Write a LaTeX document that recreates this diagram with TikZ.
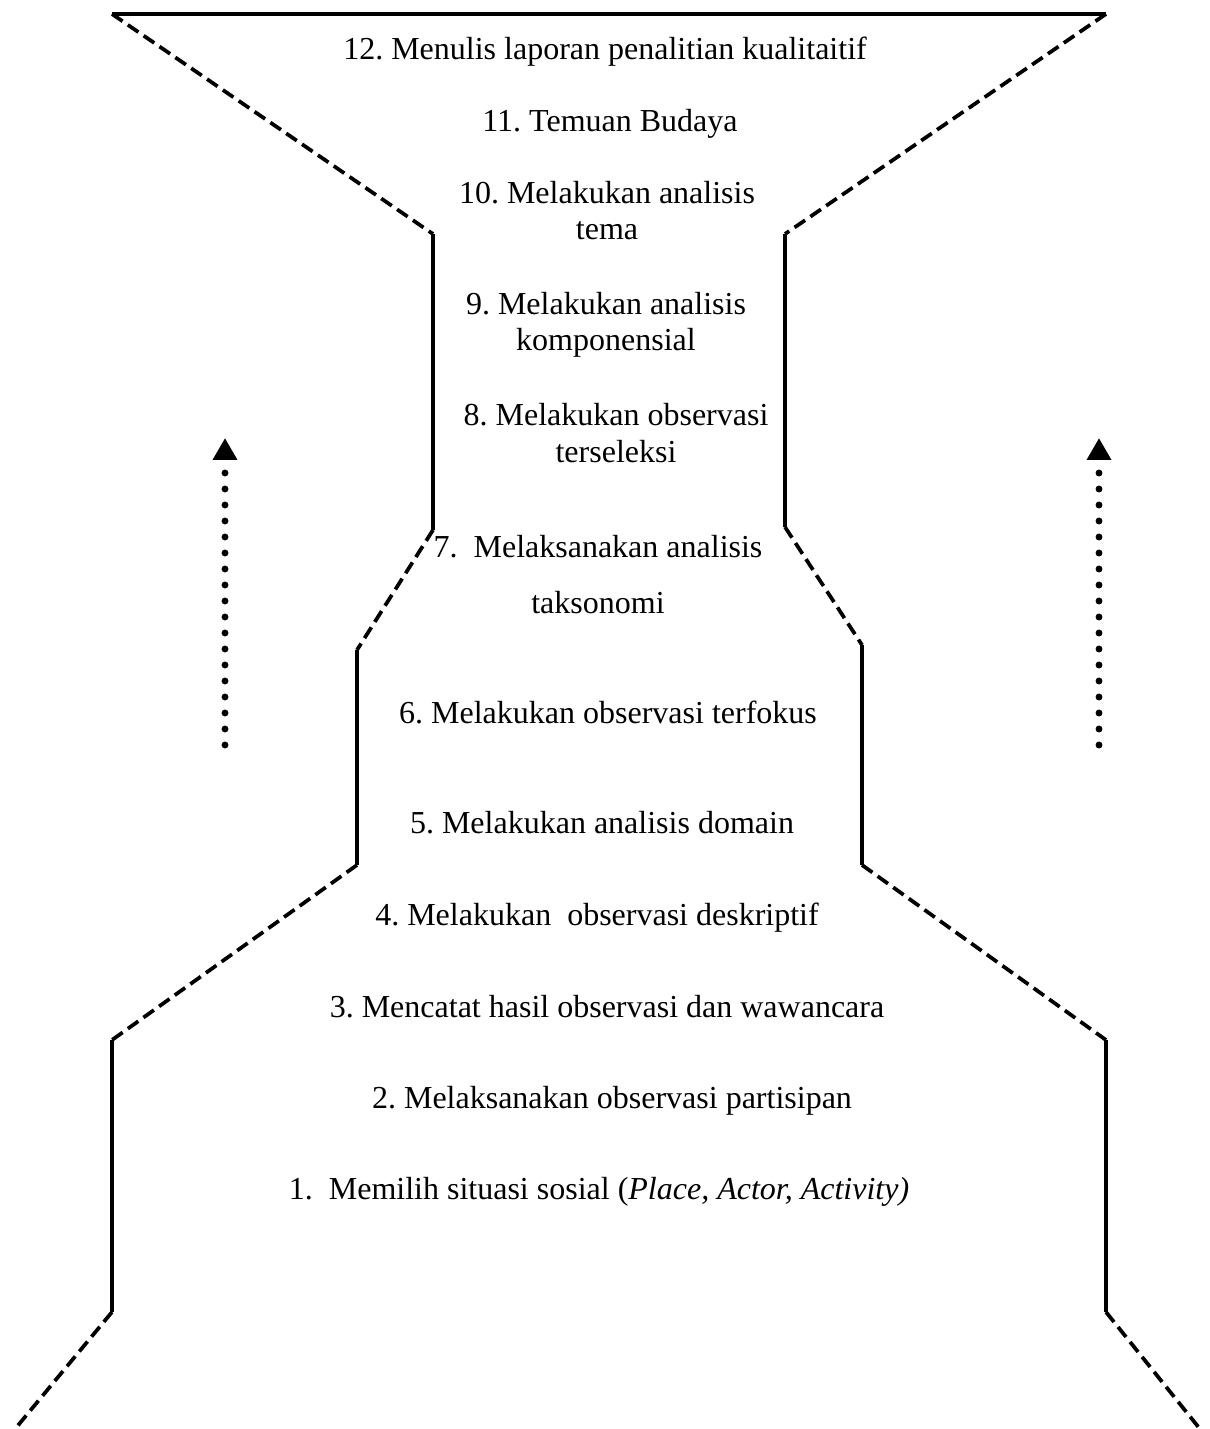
\documentclass[tikz,border=0pt]{standalone}
\usepackage{fontspec}
\setmainfont{Liberation Serif}
\usetikzlibrary{arrows.meta,positioning}
\frenchspacing

\begin{document}
\begin{tikzpicture}[x=0.375pt, y=-0.375pt, wall/.style={line width=1.4pt, line cap=butt}, slope/.style={line width=1.4pt, dash pattern=on 4.8pt off 2.4pt}, stage/.style={anchor=base, align=center, inner sep=0pt, font=\fontsize{12}{13.5}\selectfont}, uparr/.style={line width=2.6pt, line cap=round, dash pattern=on 0pt off 6pt, -{Triangle[width=8.7pt, length=8.2pt, line cap=butt, line join=miter]}}]
\useasboundingbox (0,0) rectangle (1210,1429);
% outline of the funnel
\coordinate (tl) at (112,14); \coordinate (tr) at (1106,14); \coordinate (l1) at (433,234); \coordinate (r1) at (785,234); \coordinate (l2) at (433,530); \coordinate (r2) at (785,527); \coordinate (l3) at (357,650); \coordinate (r3) at (862,645); \coordinate (l4) at (357,865); \coordinate (r4) at (862,865); \coordinate (l5) at (112,1040); \coordinate (r5) at (1106,1040); \coordinate (l6) at (112,1312); \coordinate (r6) at (1106,1312); \coordinate (l7) at (15,1429); \coordinate (r7) at (1200,1429);
\draw[wall] (tl) -- (tr); \draw[slope] (tl) -- (l1); \draw[slope] (tr) -- (r1); \draw[wall] (l1) -- (l2); \draw[wall] (r1) -- (r2); \draw[slope] (l2) -- (l3); \draw[slope] (r2) -- (r3); \draw[wall] (l3) -- (l4); \draw[wall] (r3) -- (r4); \draw[slope] (l4) -- (l5); \draw[slope] (r4) -- (r5); \draw[wall] (l5) -- (l6); \draw[wall] (r5) -- (r6); \draw[slope] (l6) -- (l7); \draw[slope] (r6) -- (r7);
% stages, bottom to top (base = last line)
\node[stage] (s1) at (599,1199) {1.\ \ Memilih situasi sosial (\textit{Place, Actor, Activity)}}; \node[stage] (s2) at (612,1108) {2. Melaksanakan observasi partisipan}; \node[stage] (s3) at (607,1017) {3. Mencatat hasil observasi dan wawancara}; \node[stage] (s4) at (597,925) {4. Melakukan\ \ observasi deskriptif}; \node[stage] (s5) at (602,833) {5. Melakukan analisis domain}; \node[stage] (s6) at (608,723) {6. Melakukan observasi terfokus};
\node[stage] (s7) at (598,613) {7.\ \ Melaksanakan analisis\\[7.5pt]taksonomi}; \node[stage] (s8) at (616,462) {8. Melakukan observasi\\terseleksi}; \node[stage] (s9) at (606,351) {9. Melakukan analisis\\komponensial}; \node[stage] (s10) at (607,240) {10. Melakukan analisis\\tema}; \node[stage] (s11) at (610,132) {11. Temuan Budaya}; \node[stage] (s12) at (605,60) {12. Menulis laporan penalitian kualitaitif};
% dotted arrows
\coordinate (la) at (225,745); \coordinate (lb) at (225,438); \coordinate (ra) at (1099,745); \coordinate (rb) at (1099,438);
\draw[uparr] (la) -- (lb); \draw[uparr] (ra) -- (rb);
\end{tikzpicture}
\end{document}
